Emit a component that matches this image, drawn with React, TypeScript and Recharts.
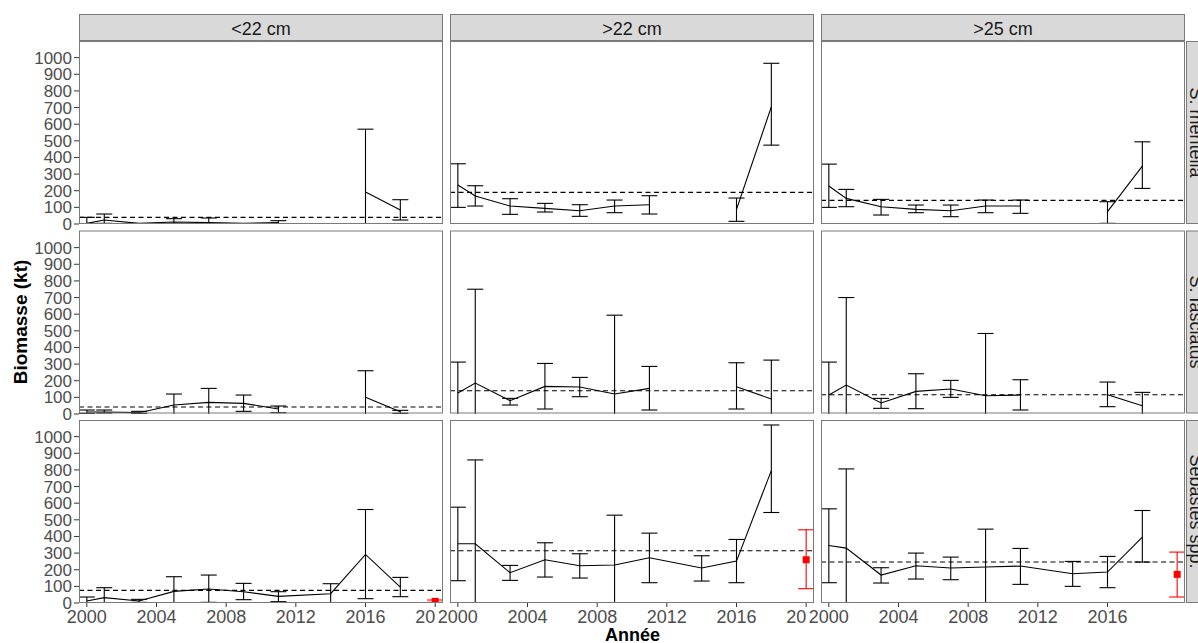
import React from "react";
import {
  ComposedChart,
  Line,
  Scatter,
  ErrorBar,
  XAxis,
  YAxis,
  ReferenceLine,
} from "recharts";

const years = [2000, 2001, 2003, 2005, 2007, 2009, 2011, 2014, 2016, 2018];
const sizeClasses = ["<22 cm", ">22 cm", ">25 cm"];
const speciesNames = ["S. mentella", "S. fasciatus", "Sebastes spp."];
const yTicks = [0, 100, 200, 300, 400, 500, 600, 700, 800, 900, 1000];
const xTicks = [2000, 2004, 2008, 2012, 2016, 2020];

// S. mentella, one list per size class (<22, >22, >25)
const mentellaBiomass = [
  [4, 24, 4, 12, 8, 4, 8, null, 192, 84],
  [234, 168, 108, 94, 80, 108, 116, null, 88, 704],
  [228, 154, 104, 88, 80, 108, 108, null, 74, 348],
];
const mentellaLow = [
  [-20, 4, null, -10, -20, null, -5, null, -180, 24],
  [100, 108, 58, 72, 46, 68, 60, null, 16, 474],
  [100, 104, 54, 68, 44, 68, 64, null, 4, 214],
];
const mentellaHigh = [
  [40, 60, null, 32, 36, null, 20, null, 570, 146],
  [362, 230, 152, 124, 116, 144, 170, null, 156, 966],
  [360, 208, 148, 114, 114, 144, 144, null, 134, 494],
];
const mentellaRef = [40, 190, 142];

// S. fasciatus
const fasciatusBiomass = [
  [12, 12, 8, 54, 70, 64, 30, null, 100, 14],
  [126, 186, 80, 166, 162, 120, 154, null, 164, 90],
  [114, 174, 66, 136, 150, 110, 114, null, 116, 50],
];
const fasciatusLow = [
  [4, 6, 4, -20, -10, 16, 8, null, -60, 4],
  [-30, -380, 54, 30, 104, -350, 24, null, 30, -140],
  [-80, -350, 34, 32, 100, -260, 24, null, 44, -30],
];
const fasciatusHigh = [
  [24, 24, 16, 120, 154, 114, 48, null, 260, 22],
  [312, 750, 94, 304, 220, 594, 286, null, 308, 324],
  [312, 700, 94, 242, 202, 484, 206, null, 192, 130],
];
const fasciatusRef = [42, 140, 116];

// Sebastes spp.
const sebastesBiomass = [
  [12, 32, 12, 70, 84, 68, 40, 56, 292, 96],
  [356, 356, 182, 260, 224, 228, 272, 210, 252, 796],
  [346, 330, 168, 224, 210, 216, 222, 176, 186, 396],
];
const sebastesLow = [
  [-10, -30, 4, -20, 4, 20, 8, -10, 26, 38],
  [134, -150, 136, 156, 150, -80, 122, 132, 122, 544],
  [122, -150, 120, 144, 140, -10, 112, 100, 92, 246],
];
const sebastesHigh = [
  [36, 92, 22, 158, 168, 118, 68, 116, 562, 154],
  [576, 860, 226, 362, 296, 528, 420, 284, 382, 1070],
  [566, 806, 212, 300, 276, 444, 328, 250, 280, 556],
];
const sebastesRef = [76, 314, 246];

// red point (latest estimate), Sebastes spp. only
const recentYear = 2020;
const recentBiomass = [10, 260, 172];
const recentLow = [4, 86, 36];
const recentHigh = [18, 440, 306];

const speciesRows = [
  { biomass: mentellaBiomass, low: mentellaLow, high: mentellaHigh, ref: mentellaRef },
  { biomass: fasciatusBiomass, low: fasciatusLow, high: fasciatusHigh, ref: fasciatusRef },
  { biomass: sebastesBiomass, low: sebastesLow, high: sebastesHigh, ref: sebastesRef },
];

const FONT = '"Liberation Sans", Arial, sans-serif';
const PANEL_W = 364;
const PANEL_H = 183;
const COL_LEFT = [79, 450, 821];
const ROW_TOP = [41, 230.5, 420];
const STRIP_TOP = 14;
const STRIP_H = 27;
const BORDER = "#7a7a7a";
const X_DOMAIN = [1999.55, 2020.45];
const Y_DOMAIN = [0, 1100];

function lineRows(values: (number | null)[]) {
  return years.map((year, i) => ({ year, value: values[i] }));
}

function barRows(values: (number | null)[], low: (number | null)[], high: (number | null)[]) {
  return years.flatMap((year, i) => {
    const v = values[i];
    const lo = low[i];
    const hi = high[i];
    if (v == null || lo == null || hi == null) return [];
    return [{ year, value: v, err: [v - lo, hi - v] }];
  });
}

const noShape = () => <g />;

const RedSquare = (props: any) => (
  <rect x={props.cx - 3.5} y={props.cy - 3.5} width={7} height={7} fill="#FF0000" />
);

// axes only (left column and bottom row), drawn under the plots
function AxisPanel({ row, col }: { row: number; col: number }) {
  const bottom = row === 2;
  const first = col === 0;
  const padLeft = first ? 79 : 14;
  const left = first ? 0 : COL_LEFT[col] - padLeft;
  const width = PANEL_W + padLeft;
  const height = PANEL_H + (bottom ? 36 : 0);
  const data = lineRows(speciesRows[row].biomass[col]);

  return (
    <div
      className="axis-layer"
      style={{ position: "absolute", left, top: ROW_TOP[row], width, height, background: "#fff" }}
    >
      <ComposedChart
        width={width}
        height={height}
        data={data}
        margin={{ top: 0, right: 0, bottom: 0, left: first ? 0 : padLeft }}
      >
        <XAxis
          type="number"
          dataKey="year"
          domain={X_DOMAIN}
          allowDataOverflow
          ticks={col === 2 ? xTicks.slice(0, 5) : xTicks}
          interval={0}
          hide={!bottom}
          height={36}
          tickSize={4}
          tickMargin={3}
          axisLine={false}
          tickLine={{ stroke: "#333333" }}
          tick={{ fill: "#4D4D4D", fontSize: 18, fontFamily: FONT }}
        />
        <YAxis
          type="number"
          dataKey="value"
          domain={Y_DOMAIN}
          allowDataOverflow
          ticks={yTicks}
          interval={0}
          hide={!first}
          width={79}
          tickSize={5}
          tickMargin={2}
          axisLine={false}
          tickLine={{ stroke: "#333333" }}
          tick={{ fill: "#4D4D4D", fontSize: 17, fontFamily: FONT }}
        />
      </ComposedChart>
    </div>
  );
}

// series, clipped to the panel by the svg bounds
function PlotPanel({ row, col }: { row: number; col: number }) {
  const sp = speciesRows[row];
  const bottom = row === 2;
  const lineData = lineRows(sp.biomass[col]);
  const bars = barRows(sp.biomass[col], sp.low[col], sp.high[col]);
  const recent = [
    {
      year: recentYear,
      value: recentBiomass[col],
      err: [recentBiomass[col] - recentLow[col], recentHigh[col] - recentBiomass[col]],
    },
  ];

  return (
    <div
      style={{
        position: "absolute",
        left: COL_LEFT[col],
        top: ROW_TOP[row],
        width: PANEL_W,
        height: PANEL_H,
        overflow: "hidden",
      }}
    >
      <ComposedChart
        width={PANEL_W}
        height={PANEL_H}
        data={lineData}
        margin={{ top: 0, right: 0, bottom: 0, left: 0 }}
      >
        <XAxis type="number" dataKey="year" domain={X_DOMAIN} allowDataOverflow hide />
        <YAxis type="number" dataKey="value" domain={Y_DOMAIN} allowDataOverflow hide />
        <ReferenceLine y={sp.ref[col]} stroke="#000" strokeDasharray="5 3.5" strokeWidth={1.1} />
        <Scatter data={bars} shape={noShape} isAnimationActive={false}>
          <ErrorBar
            dataKey="err"
            direction="y"
            width={8}
            stroke="#000"
            strokeWidth={1.1}
            isAnimationActive={false}
          />
        </Scatter>
        <Line
          dataKey="value"
          stroke="#000"
          strokeWidth={1.1}
          dot={false}
          activeDot={false}
          isAnimationActive={false}
        />
        {bottom && (
          <Scatter data={recent} shape={RedSquare} isAnimationActive={false}>
            <ErrorBar
              dataKey="err"
              direction="y"
              width={8}
              stroke="#FF0000"
              strokeWidth={1.1}
              isAnimationActive={false}
            />
          </Scatter>
        )}
      </ComposedChart>
    </div>
  );
}

export default function App() {
  const cells: { row: number; col: number }[] = [];
  for (let row = 0; row < 3; row++) for (let col = 0; col < 3; col++) cells.push({ row, col });
  const axisCells = cells.filter((c) => c.col === 0 || c.row === 2);

  return (
    <div
      style={{
        position: "fixed",
        left: 0,
        top: 0,
        width: 1198,
        height: 643,
        overflow: "hidden",
        background: "#fff",
        fontFamily: FONT,
      }}
    >
      <style>{`.axis-layer .recharts-surface{overflow:visible}`}</style>
      {axisCells.map((c) => (
        <AxisPanel key={`a-${c.row}-${c.col}`} row={c.row} col={c.col} />
      ))}
      {cells.map((c) => (
        <PlotPanel key={`p-${c.row}-${c.col}`} row={c.row} col={c.col} />
      ))}
      <svg
        width={1198}
        height={643}
        style={{ position: "absolute", left: 0, top: 0, pointerEvents: "none" }}
      >
        {cells.map((c) => (
          <rect
            key={`b-${c.row}-${c.col}`}
            x={COL_LEFT[c.col] + 0.5}
            y={ROW_TOP[c.row] + 0.5}
            width={PANEL_W - 1}
            height={PANEL_H - 1}
            fill="none"
            stroke={BORDER}
          />
        ))}
        {sizeClasses.map((label, col) => (
          <g key={`s-${label}`}>
            <rect
              x={COL_LEFT[col] + 0.5}
              y={STRIP_TOP + 0.5}
              width={PANEL_W - 1}
              height={STRIP_H - 1}
              fill="#D9D9D9"
              stroke={BORDER}
            />
            <text
              x={COL_LEFT[col] + PANEL_W / 2}
              y={35}
              textAnchor="middle"
              fontSize={18}
              fontFamily={FONT}
              fill="#1A1A1A"
            >
              {label}
            </text>
          </g>
        ))}
        {speciesNames.map((name, row) => {
          const cy = ROW_TOP[row] + PANEL_H / 2;
          return (
            <g key={`r-${name}`}>
              <rect
                x={1186.5}
                y={ROW_TOP[row] + 0.5}
                width={STRIP_H}
                height={PANEL_H - 1}
                fill="#D9D9D9"
                stroke={BORDER}
              />
              <text
                x={1190}
                y={cy}
                transform={`rotate(90, 1190, ${cy})`}
                textAnchor="middle"
                fontSize={18}
                fontFamily={FONT}
                fill="#1A1A1A"
              >
                {name}
              </text>
            </g>
          );
        })}
        <text
          x={27}
          y={322}
          transform="rotate(-90, 27, 322)"
          textAnchor="middle"
          fontSize={19}
          fontWeight="bold"
          fontFamily={FONT}
          fill="#000"
        >
          Biomasse (kt)
        </text>
        <text
          x={632.5}
          y={641}
          textAnchor="middle"
          fontSize={18}
          fontWeight="bold"
          fontFamily={FONT}
          fill="#000"
        >
          Année
        </text>
      </svg>
    </div>
  );
}
